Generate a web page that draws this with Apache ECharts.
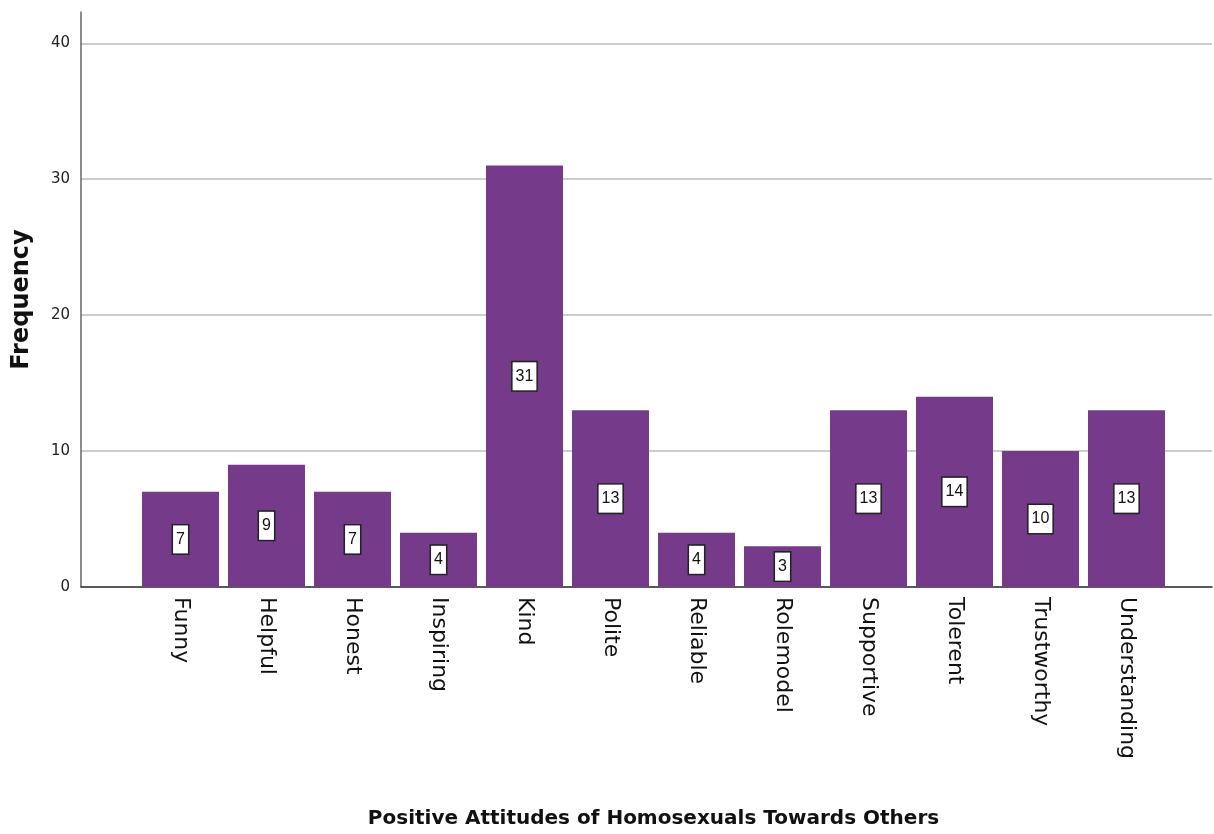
<!DOCTYPE html>
<html>
<head>
<meta charset="utf-8">
<script src="https://cdn.jsdelivr.net/npm/echarts@6/dist/echarts.min.js"></script>
<style>
    html, body { margin: 0; padding: 0; background: #fff; }
    #chart { width: 1214px; height: 834px; }
</style>
</head>
<body>
<div id="chart"></div>
<script>
// 数据
const categories = ['Funny', 'Helpful', 'Honest', 'Inspiring', 'Kind', 'Polite', 'Reliable', 'Rolemodel', 'Supportive', 'Tolerent', 'Trustworthy', 'Understanding'];
const frequencies = [7, 9, 7, 4, 31, 13, 4, 3, 13, 14, 10, 13];
const yMax = 42.3;
const yInterval = 10;

window.addEventListener('DOMContentLoaded', function() {
    initChart();
});

function initChart() {
    const chartDom = document.getElementById('chart');
    const myChart = echarts.init(chartDom);

    const option = {
        backgroundColor: '#fff',
        animation: false,
        grid: [
            // 坐标轴与网格线
            { left: 81, right: 2, top: 12, bottom: 247 },
            // 柱子
            { left: 137.5, width: 1032, top: 12, bottom: 247 }
        ],
        xAxis: [
            {
                type: 'value',
                gridIndex: 0,
                min: 0,
                max: 1,
                axisLine: { show: true, lineStyle: { color: '#333', width: 1.5 } },
                axisTick: { show: false },
                axisLabel: { show: false },
                splitLine: { show: false }
            },
            {
                type: 'category',
                gridIndex: 1,
                data: categories,
                axisLine: { show: false },
                axisTick: { show: false },
                axisLabel: {
                    rotate: -90,
                    margin: 10,
                    fontSize: 22,
                    fontFamily: 'DejaVu Sans',
                    color: '#111'
                },
                name: 'Positive Attitudes of Homosexuals Towards Others',
                nameLocation: 'middle',
                nameGap: 222,
                nameTextStyle: {
                    fontSize: 20,
                    fontWeight: 'bold',
                    fontFamily: 'DejaVu Sans',
                    color: '#111'
                }
            }
        ],
        yAxis: [
            {
                type: 'value',
                gridIndex: 0,
                min: 0,
                max: yMax,
                interval: yInterval,
                name: 'Frequency',
                nameLocation: 'middle',
                nameGap: 47,
                nameTextStyle: {
                    fontSize: 24,
                    fontWeight: 'bold',
                    fontFamily: 'DejaVu Sans',
                    color: '#111'
                },
                axisLine: { show: true, lineStyle: { color: '#666', width: 1.5 } },
                axisTick: { show: false },
                axisLabel: {
                    margin: 11,
                    fontSize: 15,
                    fontFamily: 'DejaVu Sans',
                    color: '#222',
                    showMaxLabel: false
                },
                splitLine: {
                    show: true,
                    showMaxLine: false,
                    lineStyle: { color: '#cccccc', width: 2 }
                }
            },
            {
                type: 'value',
                gridIndex: 1,
                min: 0,
                max: yMax,
                show: false
            }
        ],
        series: [
            {
                name: 'Frequency',
                type: 'bar',
                xAxisIndex: 1,
                yAxisIndex: 1,
                data: frequencies,
                barWidth: 77,
                itemStyle: { color: '#763a8b' },
                label: {
                    show: true,
                    position: 'inside',
                    fontSize: 16,
                    fontFamily: 'Liberation Sans Narrow, Liberation Sans',
                    color: '#111',
                    backgroundColor: '#fff',
                    borderColor: '#222',
                    borderWidth: 1.5,
                    padding: [6, 3]
                }
            }
        ]
    };

    myChart.setOption(option);
    window.addEventListener('resize', () => myChart.resize());
}
</script>
</body>
</html>
